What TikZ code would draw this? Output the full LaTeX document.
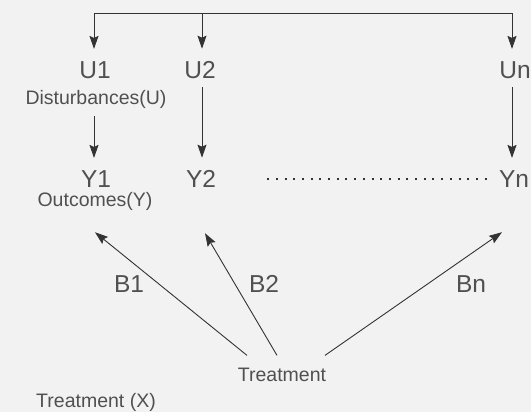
\documentclass[tikz,border=0pt]{standalone}
\usepackage{fontspec}
\setmainfont{Liberation Sans}
\usetikzlibrary{arrows.meta,positioning,calc}
\definecolor{bg}{HTML}{F2F2F2}
\definecolor{ink}{HTML}{333333}
\definecolor{txt}{HTML}{505050}
\tikzset{
  var/.style={text=txt, font=\fontsize{24.5}{26}\selectfont, inner sep=0pt, anchor=base},
  note/.style={text=txt, font=\fontsize{19.5}{22}\selectfont, inner sep=0pt, anchor=base},
  link/.style={draw=ink, line width=0.9pt},
  arr/.style={link, -{Stealth[length=13pt,width=9pt,inset=2pt]}},
  dots/.style={draw=ink, line width=2pt, dash pattern=on 2pt off 6.7pt},
}

\begin{document}
\begin{tikzpicture}[x=1pt,y=-1pt]
  \fill[bg] (0,0) rectangle (531,412);
  \useasboundingbox (0,0) rectangle (531,412);

  % disturbances
  \node[var] (U1) at (95,79) {U1};
  \node[var] (U2) at (200,79) {U2};
  \node[var] (Un) at (515,79) {Un};
  \node[note] (dist) at (96,105) {Disturbances(U)};

  % outcomes
  \node[var] (Y1) at (96,187) {Y1};
  \node[var] (Y2) at (201,187) {Y2};
  \node[var] (Yn) at (514,187) {Yn};
  \node[note] (outc) at (95,207) {Outcomes(Y)};

  % treatment
  \node[note] (treat) at (282,381) {Treatment};
  \node[note] (treatX) at (96,407) {Treatment (X)};

  % effects
  \node[var] (B1) at (129,292) {B1};
  \node[var] (B2) at (264,292) {B2};
  \node[var] (Bn) at (471,292) {Bn};

  % common source of the disturbances
  \coordinate (t1) at (94,13);
  \coordinate (t2) at (202,13);
  \coordinate (tn) at (512,13);
  \draw[link] (t1) -- (tn);
  \draw[arr, shorten >=13pt] (t1) -- (t1 |- U1.north);
  \draw[arr, shorten >=13pt] (t2) -- (t2 |- U2.north);
  \draw[arr, shorten >=13pt] (tn) -- (tn |- Un.north);

  % disturbance -> outcome
  \draw[arr, shorten <=7pt, shorten >=12pt] (dist.south -| t1) -- (t1 |- Y1.north);
  \draw[arr, shorten <=8pt, shorten >=12pt] (U2.south -| t2) -- (t2 |- Y2.north);
  \draw[arr, shorten <=8pt, shorten >=12pt] (Un.south -| tn) -- (tn |- Yn.north);
  \draw[dots] ($(Y2.base east)+(51,-8)$) -- ($(Yn.base west)+(-8,-8)$);

  % treatment -> outcome
  \coordinate (b1s) at ([xshift=-35pt,yshift=12pt]treat.north);
  \coordinate (b2s) at ([xshift=-5pt,yshift=12pt]treat.north);
  \coordinate (bns) at ([xshift=43pt,yshift=12pt]treat.north);
  \coordinate (b1e) at ([yshift=-21pt]outc.south);
  \coordinate (b2e) at ([xshift=4pt,yshift=-46pt]Y2.south);
  \coordinate (bne) at ([xshift=-12pt,yshift=-45pt]Yn.south);
  \draw[arr] (b1s) -- (b1e);
  \draw[arr] (b2s) -- (b2e);
  \draw[arr] (bns) -- (bne);
\end{tikzpicture}
\end{document}
